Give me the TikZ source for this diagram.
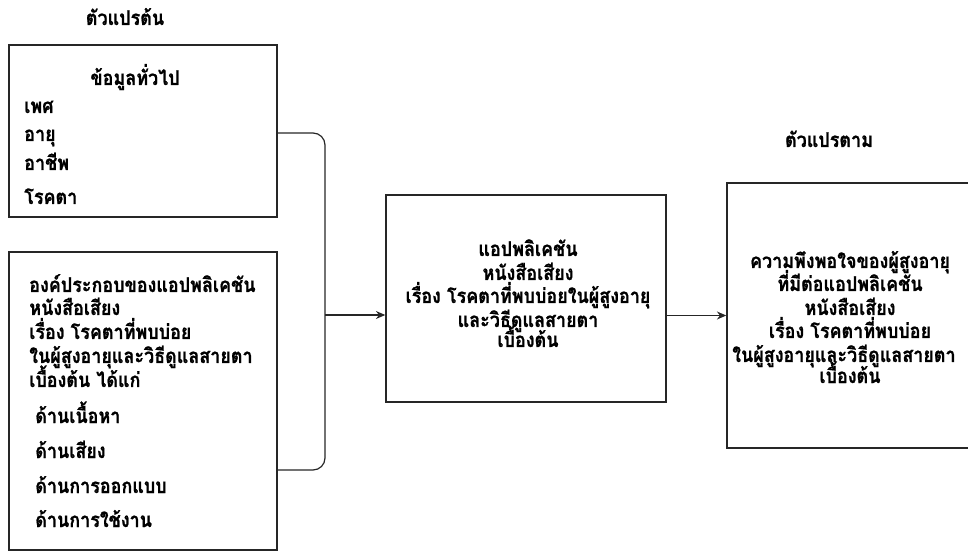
\documentclass[tikz,border=0pt]{standalone}
\usepackage{fontspec}
\newfontfamily\thaifont[Script=Thai,FakeStretch=0.88,BoldFeatures={FakeBold=0.8}]{Loma}
\usetikzlibrary{fit,arrows.meta}
\begin{document}
\begin{tikzpicture}[x=0.75pt,y=-0.75pt,
  box/.style={draw=black!85,line width=1.1pt,inner sep=0pt},
  txt/.style={inner sep=0pt,font=\thaifont\bfseries\fontsize{15.3pt}{18pt}\selectfont,text=black},
  ltxt/.style={txt,anchor=base west},
  ctxt/.style={txt,anchor=base},
  conn/.style={draw=black!85,line width=0.9pt},
  arr/.style={conn,-{Stealth[length=7pt,width=6pt]}}]
\useasboundingbox[clip] (0,0) rectangle (968,552);
% boxes
\node[box,fit={(9,45) (277,217)}] (b1) {};
\node[box,fit={(9,252) (277,550)}] (b2) {};
\node[box,fit={(386,195) (666,402)}] (b3) {};
\node[box,fit={(727,183) (976,448)}] (b4) {};
% titles
\node[ctxt] (h1) at (125,25) {ตัวแปรต้น};
\node[ctxt] (h2) at (829,147) {ตัวแปรตาม};
% box 1
\node[ctxt] (a0) at (135,85) {ข้อมูลทั่วไป};
\node[ltxt] (a1) at (24,113) {เพศ};
\node[ltxt] (a2) at (24,141) {อายุ};
\node[ltxt] (a3) at (24,170) {อาชีพ};
\node[ltxt] (a4) at (24,204) {โรคตา};
% box 2
\node[ltxt] (c1) at (29,292) {องค์ประกอบของแอปพลิเคชัน};
\node[ltxt] (c2) at (29,315) {หนังสือเสียง};
\node[ltxt] (c3) at (29,339) {เรื่อง โรคตาที่พบบ่อย};
\node[ltxt] (c4) at (29,363) {ในผู้สูงอายุและวิธีดูแลสายตา};
\node[ltxt] (c5) at (29,387) {เบื้องต้น ได้แก่};
\node[ltxt] (c6) at (35,423) {ด้านเนื้อหา};
\node[ltxt] (c7) at (35,458) {ด้านเสียง};
\node[ltxt] (c8) at (35,493) {ด้านการออกแบบ};
\node[ltxt] (c9) at (35,527) {ด้านการใช้งาน};
% box 3
\node[ctxt] (d1) at (528,256) {แอปพลิเคชัน};
\node[ctxt] (d2) at (528,280) {หนังสือเสียง};
\node[ctxt] (d3) at (528,303) {เรื่อง โรคตาที่พบบ่อยในผู้สูงอายุ};
\node[ctxt] (d4) at (528,327) {และวิธีดูแลสายตา};
\node[ctxt] (d5) at (528,347) {เบื้องต้น};
% box 4
\node[ctxt] (e1) at (850,268) {ความพึงพอใจของผู้สูงอายุ};
\node[ctxt] (e2) at (850,291) {ที่มีต่อแอปพลิเคชัน};
\node[ctxt] (e3) at (850,315) {หนังสือเสียง};
\node[ctxt] (e4) at (850,338) {เรื่อง โรคตาที่พบบ่อย};
\node[ltxt] (e5) at (732,362) {ในผู้สูงอายุและวิธีดูแลสายตา};
\node[ctxt] (e6) at (850,383) {เบื้องต้น};
% connectors
\coordinate (jt) at (325,133);
\coordinate (jb) at (325,470);
\coordinate (jm) at (325,315);
\draw[conn,rounded corners=9pt] (b1.east |- jt) -- (jt) -- (jb) -- (b2.east |- jb);
\draw[arr] (jm) -- (b3.west |- jm);
\draw[arr] (b3.east |- b4.west) -- (b4.west);
\end{tikzpicture}
\end{document}
